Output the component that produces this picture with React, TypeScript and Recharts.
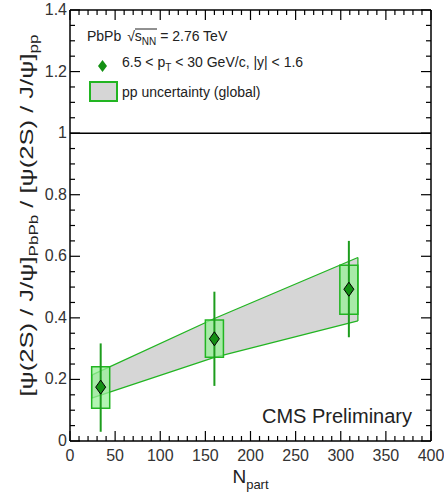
import {
  Area,
  ComposedChart,
  ErrorBar,
  Label,
  Legend,
  ReferenceArea,
  ReferenceLine,
  Scatter,
  XAxis,
  YAxis,
} from "recharts";

// measured points (N_part, ratio) with stat errors and point-by-point systematics
const npart = [34, 160, 309];
const ratio = [0.175, 0.332, 0.493];
const statLow = [0.03, 0.179, 0.337];
const statHigh = [0.317, 0.485, 0.65];
const sysLow = [0.106, 0.272, 0.412];
const sysHigh = [0.241, 0.393, 0.571];

// global pp uncertainty band
const bandN = [24, 160, 319];
const bandLow = [0.139, 0.272, 0.39];
const bandHigh = [0.214, 0.398, 0.596];

const xMajor = [0, 50, 100, 150, 200, 250, 300, 350, 400];
const yLabels = ["0", "0.2", "0.4", "0.6", "0.8", "1", "1.2", "1.4"];

const xTicks = Array.from({ length: 41 }, (_, i) => i * 10);
const yTicks = Array.from({ length: 29 }, (_, i) => i / 20);

const GREEN = "#22b522";
const BOX_HALF = 10;

const bandRows = bandN.map((n, i) => ({ n, band: [bandLow[i], bandHigh[i]] }));
const pointRows = npart.map((n, i) => ({
  n,
  r: ratio[i],
  err: [ratio[i] - statLow[i], statHigh[i] - ratio[i]],
}));

const isMajorY = (v: number) => Math.round(v * 20) % 4 === 0;

const BottomTick = ({ x, y, payload }: any) => {
  const major = xMajor.includes(payload.value);
  return (
    <g>
      <line x1={x} y1={y} x2={x} y2={y - (major ? 10 : 5)} stroke="#000" strokeWidth={1.2} />
      {major && (
        <text x={x} y={y + 20} textAnchor="middle" fontSize={16} fill="#333">
          {payload.value}
        </text>
      )}
    </g>
  );
};

const TopTick = ({ x, y, payload }: any) => {
  const major = xMajor.includes(payload.value);
  return <line x1={x} y1={y} x2={x} y2={y + (major ? 10 : 5)} stroke="#000" strokeWidth={1.2} />;
};

const LeftTick = ({ x, y, payload }: any) => {
  const major = isMajorY(payload.value);
  return (
    <g>
      <line x1={x} y1={y} x2={x + (major ? 10 : 5)} y2={y} stroke="#000" strokeWidth={1.2} />
      {major && (
        <text x={x - 3} y={y + 5} textAnchor="end" fontSize={16} fill="#333">
          {yLabels[Math.round(payload.value * 5)]}
        </text>
      )}
    </g>
  );
};

const RightTick = ({ x, y, payload }: any) => {
  const major = isMajorY(payload.value);
  return <line x1={x} y1={y} x2={x - (major ? 10 : 5)} y2={y} stroke="#000" strokeWidth={1.2} />;
};

const Diamond = ({ cx, cy }: any) => (
  <polygon
    points={`${cx},${cy - 7} ${cx + 5},${cy} ${cx},${cy + 7} ${cx - 5},${cy}`}
    fill="#139013"
    stroke="#000"
    strokeWidth={1}
  />
);

const YTitle = ({ viewBox }: any) => {
  const cy = viewBox.y + viewBox.height / 2 - 10;
  return (
    <text
      transform={`translate(33,${cy}) rotate(-90) scale(1.42,1)`}
      textAnchor="middle"
      fontSize={18}
      fill="#222"
    >
      [ψ(2S) / J/ψ]
      <tspan dy={5} fontSize={12}>PbPb</tspan>
      <tspan dy={-5}> / [ψ(2S) / J/ψ]</tspan>
      <tspan dy={5} fontSize={12}>pp</tspan>
    </text>
  );
};

const XTitle = ({ viewBox }: any) => (
  <g>
    <text x={viewBox.x + viewBox.width / 2} y={viewBox.y + 42} textAnchor="middle" fontSize={19} fill="#222">
      N<tspan dy={6} fontSize={13}>part</tspan>
    </text>
    <text x={viewBox.x + viewBox.width - 19} y={viewBox.y - 18} textAnchor="end" fontSize={20} fill="#222">
      CMS Preliminary
    </text>
  </g>
);

const LegendBox = () => (
  <svg width={240} height={90} style={{ overflow: "visible" }}>
    <text x={7} y={21} fontSize={14} fill="#222">
      PbPb <tspan dx={2}>√</tspan>
      <tspan>s</tspan>
      <tspan dy={4} fontSize={10}>NN</tspan>
      <tspan dy={-4}> = 2.76 TeV</tspan>
    </text>
    <line x1={55} y1={9} x2={77} y2={9} stroke="#222" strokeWidth={1} />
    <polygon points="22.5,40 27,46 22.5,52 18,46" fill="#139013" />
    <text x={42} y={47} fontSize={14} fill="#222">
      6.5 &lt; p<tspan dy={4} fontSize={10}>T</tspan>
      <tspan dy={-4}> &lt; 30 GeV/c, |y| &lt; 1.6</tspan>
    </text>
    <rect x={10} y={62} width={27} height={19} fill="#d6d6d6" stroke={GREEN} strokeWidth={2} />
    <text x={42} y={77} fontSize={14} fill="#222">
      pp uncertainty (global)
    </text>
  </svg>
);

export default function App() {
  return (
    <div
      style={{
        position: "absolute",
        left: 0,
        top: 0,
        width: 444,
        height: 499,
        background: "#fff",
        fontFamily: "'Liberation Sans', Arial, sans-serif",
      }}
    >
      <ComposedChart width={444} height={499} data={bandRows} margin={{ top: 9, right: 12, bottom: 0, left: 0 }}>
        <XAxis
          xAxisId="b"
          dataKey="n"
          type="number"
          domain={[0, 400]}
          ticks={xTicks}
          interval={0}
          height={58}
          tickSize={0}
          tickMargin={0}
          tickLine={false}
          tick={<BottomTick />}
          axisLine={{ stroke: "#000", strokeWidth: 1.5 }}
          allowDataOverflow
        >
          <Label content={XTitle} />
        </XAxis>
        <XAxis
          xAxisId="t"
          orientation="top"
          dataKey="n"
          type="number"
          domain={[0, 400]}
          ticks={xTicks}
          interval={0}
          height={1}
          tickSize={0}
          tickMargin={0}
          tickLine={false}
          tick={<TopTick />}
          axisLine={{ stroke: "#000", strokeWidth: 1.5 }}
          allowDataOverflow
        />
        <YAxis
          yAxisId="l"
          type="number"
          domain={[0, 1.4]}
          ticks={yTicks}
          interval={0}
          width={70}
          tickSize={0}
          tickMargin={0}
          tickLine={false}
          tick={<LeftTick />}
          axisLine={{ stroke: "#000", strokeWidth: 1.5 }}
          allowDataOverflow
        >
          <Label content={YTitle} />
        </YAxis>
        <YAxis
          yAxisId="r"
          orientation="right"
          type="number"
          domain={[0, 1.4]}
          ticks={yTicks}
          interval={0}
          width={1}
          tickSize={0}
          tickMargin={0}
          tickLine={false}
          tick={<RightTick />}
          axisLine={{ stroke: "#000", strokeWidth: 1.5 }}
          allowDataOverflow
        />
        <Legend
          layout="vertical"
          align="center"
          verticalAlign="middle"
          content={LegendBox}
          wrapperStyle={{ left: 80, top: 20, width: 240, height: 90 }}
        />
        <Area
          xAxisId="b"
          yAxisId="l"
          dataKey="band"
          type="linear"
          stroke={GREEN}
          strokeWidth={1.3}
          fill="#d6d6d6"
          fillOpacity={1}
          dot={false}
          activeDot={false}
          isAnimationActive={false}
        />
        {[0, bandN.length - 1].map((i) => (
          <ReferenceLine
            key={`edge${i}`}
            xAxisId="b"
            yAxisId="l"
            segment={[
              { x: bandN[i], y: bandLow[i] },
              { x: bandN[i], y: bandHigh[i] },
            ]}
            stroke={GREEN}
            strokeWidth={1.3}
          />
        ))}
        {npart.map((n, i) => (
          <ReferenceArea
            key={`sys${i}`}
            xAxisId="b"
            yAxisId="l"
            x1={n - BOX_HALF}
            x2={n + BOX_HALF}
            y1={sysLow[i]}
            y2={sysHigh[i]}
            fill="#98f098"
            fillOpacity={0.75}
            stroke={GREEN}
            strokeWidth={1.5}
          />
        ))}
        <ReferenceLine xAxisId="b" yAxisId="l" y={1} stroke="#000" strokeWidth={1.5} />
        <Scatter
          xAxisId="b"
          yAxisId="l"
          data={pointRows}
          dataKey="r"
          shape={Diamond}
          isAnimationActive={false}
        >
          <ErrorBar dataKey="err" direction="y" width={0} stroke="#1d9d1d" strokeWidth={2} isAnimationActive={false} />
        </Scatter>
      </ComposedChart>
    </div>
  );
}
